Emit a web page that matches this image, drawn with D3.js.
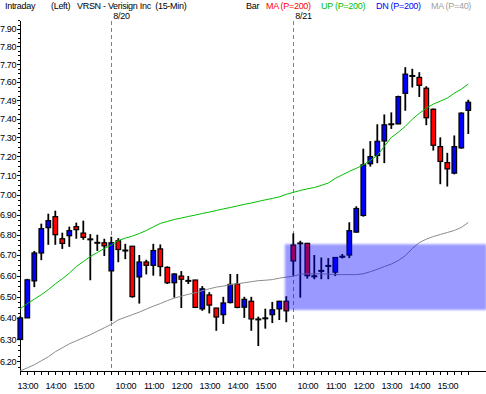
<!DOCTYPE html>
<html>
<head>
<meta charset="utf-8">
<script src="https://cdn.jsdelivr.net/npm/d3@7"></script>
<style>
  body { margin: 0; background: #fff; }
  svg { display: block; font-family: "Liberation Sans", Arial, sans-serif; font-size: 9px; }
</style>
</head>
<body>
<svg id="chart" width="486" height="394"></svg>
<script>
// sessions shown (15-min bars)
const sessionDates = ['8/19', '8/20', '8/21']
const sessionStart = ['12:45', '9:30', '9:30']
const sessionBars = [13, 26, 26]

// OHLC
const open = [6.30, 6.40, 6.575, 6.71, 6.835, 6.89, 6.78, 6.795, 6.84, 6.808, 6.777, 6.76, 6.76,
  6.623, 6.77, 6.722, 6.743, 6.594, 6.666, 6.65, 6.73, 6.64, 6.566, 6.598, 6.575, 6.579, 6.442,
  6.508, 6.446, 6.415, 6.472, 6.56, 6.45, 6.478, 6.393, 6.398, 6.415, 6.442, 6.478,
  6.749, 6.757, 6.757, 6.597, 6.623, 6.647, 6.617, 6.692, 6.70, 6.813, 6.896, 7.161, 7.204, 7.281,
  7.37, 7.372, 7.538, 7.634, 7.626, 7.566, 7.451, 7.251, 7.167, 7.112, 7.244, 7.445]
const high = [6.41, 6.585, 6.72, 6.855, 6.905, 6.92, 6.81, 6.84, 6.86, 6.87, 6.803, 6.80, 6.78,
  6.79, 6.783, 6.755, 6.745, 6.70, 6.677, 6.755, 6.752, 6.645, 6.612, 6.622, 6.598, 6.58, 6.55,
  6.521, 6.447, 6.499, 6.608, 6.608, 6.499, 6.499, 6.406, 6.443, 6.475, 6.48, 6.502,
  6.807, 6.77, 6.76, 6.70, 6.688, 6.685, 6.69, 6.705, 6.862, 6.942, 7.24, 7.28, 7.37, 7.423,
  7.434, 7.525, 7.683, 7.674, 7.655, 7.577, 7.455, 7.30, 7.218, 7.31, 7.434, 7.503]
const low = [6.30, 6.40, 6.545, 6.675, 6.75, 6.75, 6.73, 6.74, 6.78, 6.775, 6.578, 6.72, 6.695,
  6.385, 6.665, 6.68, 6.495, 6.467, 6.606, 6.60, 6.597, 6.56, 6.495, 6.446, 6.56, 6.446, 6.433,
  6.421, 6.34, 6.372, 6.468, 6.445, 6.40, 6.34, 6.27, 6.35, 6.376, 6.39, 6.38,
  6.60, 6.495, 6.586, 6.583, 6.583, 6.583, 6.598, 6.683, 6.685, 6.81, 6.89, 7.146, 7.164, 7.164,
  7.345, 7.37, 7.443, 7.57, 7.518, 7.365, 7.23, 7.055, 7.043, 7.106, 7.24, 7.318]
const close = [6.40, 6.58, 6.71, 6.83, 6.87, 6.80, 6.757, 6.82, 6.825, 6.787, 6.777, 6.76, 6.745,
  6.76, 6.727, 6.722, 6.50, 6.666, 6.65, 6.722, 6.644, 6.566, 6.608, 6.583, 6.575, 6.449, 6.537,
  6.46, 6.404, 6.47, 6.558, 6.449, 6.487, 6.395, 6.393, 6.398, 6.438, 6.478, 6.433,
  6.671, 6.757, 6.60, 6.597, 6.623, 6.647, 6.688, 6.692, 6.82, 6.931, 7.155, 7.198, 7.279, 7.367,
  7.37, 7.52, 7.644, 7.634, 7.582, 7.405, 7.258, 7.173, 7.134, 7.251, 7.43, 7.489]

// green line (UP) and gray MA(40)
const upLine = [6.443, 6.467, 6.488, 6.509, 6.533, 6.561, 6.585, 6.612, 6.644, 6.668, 6.693, 6.712,
  6.732, 6.749, 6.771, 6.783, 6.793, 6.806, 6.821, 6.839, 6.856, 6.866, 6.876, 6.883, 6.891, 6.898,
  6.906, 6.913, 6.921, 6.929, 6.936, 6.944, 6.952, 6.959, 6.967, 6.975, 6.982, 6.990, 7.003, 7.013,
  7.023, 7.031, 7.038, 7.049, 7.061, 7.085, 7.103, 7.121, 7.137, 7.155, 7.178, 7.205, 7.252, 7.300,
  7.327, 7.359, 7.397, 7.429, 7.457, 7.479, 7.495, 7.512, 7.539, 7.561, 7.589]
const ma40 = [6.158, 6.171, 6.185, 6.203, 6.221, 6.244, 6.262, 6.280, 6.294, 6.308, 6.322, 6.338,
  6.354, 6.370, 6.391, 6.403, 6.415, 6.427, 6.441, 6.455, 6.467, 6.481, 6.493, 6.502, 6.511, 6.518,
  6.528, 6.537, 6.545, 6.550, 6.557, 6.561, 6.566, 6.571, 6.576, 6.578, 6.581, 6.588, 6.593, 6.597,
  6.607, 6.609, 6.609, 6.609, 6.607, 6.605, 6.605, 6.605, 6.605, 6.609, 6.619, 6.631, 6.644, 6.656,
  6.673, 6.697, 6.732, 6.761, 6.778, 6.791, 6.801, 6.811, 6.821, 6.836, 6.861]

// highlighted zone (bar index from / to, price lo / hi)
const zoneBars = [37.8, 66.6]
const zonePrices = [6.437, 6.753]

const yTicks = [6.2, 6.3, 6.4, 6.5, 6.6, 6.7, 6.8, 6.9, 7.0, 7.1, 7.2, 7.3, 7.4, 7.5, 7.6, 7.7, 7.8, 7.9]
const yTickLabels = ['6.20', '6.30', '6.40', '6.50', '6.60', '6.70', '6.80', '6.90', '7.00',
  '7.10', '7.20', '7.30', '7.40', '7.49', '7.60', '7.70', '7.80', '7.90']

const header = ['Intraday', '(Left)', 'VRSN - Verisign Inc\u00a0 (15-Min)']
const legend = ['Bar', 'MA (P=200)', 'UP (P=200)', 'DN (P=200)', 'MA (P=40)']

const colors = { up: '#0000ff', down: '#ff0000', upLine: '#00c000', ma40: '#8c8c8c' }
const legendColors = ['#000', '#ff0000', '#00c000', '#0000ff', '#a0a0a0']

// bar times
const times = []
const sessionOf = []
sessionStart.forEach((s, k) => {
  let [h, m] = s.split(':').map(Number)
  for (let j = 0; j < sessionBars[k]; j++) {
    times.push([h, m])
    sessionOf.push(k)
    m += 15
    if (m === 60) { m = 0; h++ }
  }
})
const firstBar = sessionBars.map((_, k) => d3.sum(sessionBars.slice(0, k)))

const svg = d3.select('#chart')
const axisX = 20, plotTop = 21, plotBottom = 371, plotRight = 486

const x = d3.scaleLinear().domain([0, 64]).range([20.3, 468.3])
const y = d3.scaleLog().domain([6.157, 7.946]).range([plotBottom, plotTop])

// header
const hx = [5, 51, 77]
svg.append('g').selectAll('text').data(header).join('text')
  .attr('x', (d, i) => hx[i]).attr('y', 9)
  .attr('letter-spacing', -0.3)
  .text(d => d)
const lx = [246, 266, 321, 376, 431]
svg.append('g').selectAll('text').data(legend).join('text')
  .attr('x', (d, i) => lx[i]).attr('y', 9)
  .attr('letter-spacing', -0.3)
  .attr('fill', (d, i) => legendColors[i])
  .text(d => d)

// y axis
const yAxis = svg.append('g')
  .attr('transform', `translate(${axisX},0)`)
  .call(d3.axisLeft(y).tickValues(yTicks).tickSize(3).tickPadding(1)
    .tickFormat((d, i) => yTickLabels[i]))
yAxis.select('.domain').attr('d', `M0,${plotTop}V${plotBottom}`)
yAxis.selectAll('text').attr('font-size', 9).attr('font-family', null).attr('letter-spacing', -0.4)
const minor = d3.range(6.175, 7.95, 0.025).filter(v => !yTicks.some(t => Math.abs(t - v) < 0.001))
svg.append('g').attr('transform', `translate(${axisX},0)`)
  .selectAll('line').data(minor).join('line')
  .attr('x1', -2).attr('x2', 0)
  .attr('y1', d => Math.round(y(d)) + 0.5).attr('y2', d => Math.round(y(d)) + 0.5)
  .attr('stroke', '#000')

// x axis
const xAxis = svg.append('g')
  .attr('transform', `translate(0,${plotBottom})`)
  .call(d3.axisBottom(x).tickValues(d3.range(times.length)).tickSize(4).tickPadding(8)
    .tickFormat(i => {
      const [h, m] = times[i]
      return m === 0 && h >= 10 ? `${h}:00` : ''
    }))
xAxis.select('.domain').attr('d', `M${axisX},0H${plotRight}`)
xAxis.selectAll('text').attr('font-size', 9).attr('font-family', null).attr('letter-spacing', -0.4)
svg.selectAll('.domain, .tick line').attr('shape-rendering', 'crispEdges')

// session separators and dates
const sep = firstBar.slice(1)
svg.append('g').selectAll('line').data(sep).join('line')
  .attr('x1', d => Math.round(x(d)) + 0.5).attr('x2', d => Math.round(x(d)) + 0.5)
  .attr('y1', plotTop).attr('y2', plotBottom)
  .attr('stroke', '#808080').attr('stroke-dasharray', '4,3')
svg.append('g').selectAll('text').data(sep).join('text')
  .attr('x', d => x(d) + 2).attr('y', 19)
  .attr('letter-spacing', -0.3)
  .text(d => sessionDates[sessionOf[d]])

// candles
const bars = open.map((o, i) => ({ i, o, h: high[i], l: low[i], c: close[i] }))
const g = svg.append('g')
g.selectAll('line.wick').data(bars).join('line')
  .attr('class', 'wick')
  .attr('x1', d => x(d.i)).attr('x2', d => x(d.i))
  .attr('y1', d => y(d.h)).attr('y2', d => y(d.l))
  .attr('stroke', '#000').attr('stroke-width', 1.8)
g.selectAll('rect.body').data(bars.filter(d => d.o !== d.c)).join('rect')
  .attr('class', 'body')
  .attr('x', d => x(d.i) - 2.3).attr('width', 4.6)
  .attr('y', d => y(Math.max(d.o, d.c)))
  .attr('height', d => Math.max(1, y(Math.min(d.o, d.c)) - y(Math.max(d.o, d.c))))
  .attr('fill', d => d.c > d.o ? colors.up : colors.down)
  .attr('stroke', '#000').attr('stroke-width', 1.2)
g.selectAll('rect.doji').data(bars.filter(d => d.o === d.c)).join('rect')
  .attr('class', 'doji')
  .attr('x', d => x(d.i) - 3).attr('width', 6)
  .attr('y', d => y(d.c) - 1).attr('height', 2)
  .attr('fill', '#000')

// lines
const line = d3.line().x((d, i) => x(i)).y(d => y(d))
svg.append('path').datum(upLine).attr('d', line)
  .attr('fill', 'none').attr('stroke', colors.upLine).attr('stroke-width', 1)
svg.append('path').datum(ma40).attr('d', line)
  .attr('fill', 'none').attr('stroke', colors.ma40).attr('stroke-width', 1)

// highlighted zone
svg.append('defs').append('filter').attr('id', 'soft')
  .attr('x', '-5%').attr('y', '-10%').attr('width', '110%').attr('height', '120%')
  .append('feGaussianBlur').attr('stdDeviation', 1.3)
svg.append('rect')
  .attr('x', x(zoneBars[0])).attr('width', x(zoneBars[1]) - x(zoneBars[0]))
  .attr('y', y(zonePrices[1])).attr('height', y(zonePrices[0]) - y(zonePrices[1]))
  .attr('fill', '#0000ff').attr('fill-opacity', 0.4)
  .attr('filter', 'url(#soft)')
</script>
</body>
</html>
